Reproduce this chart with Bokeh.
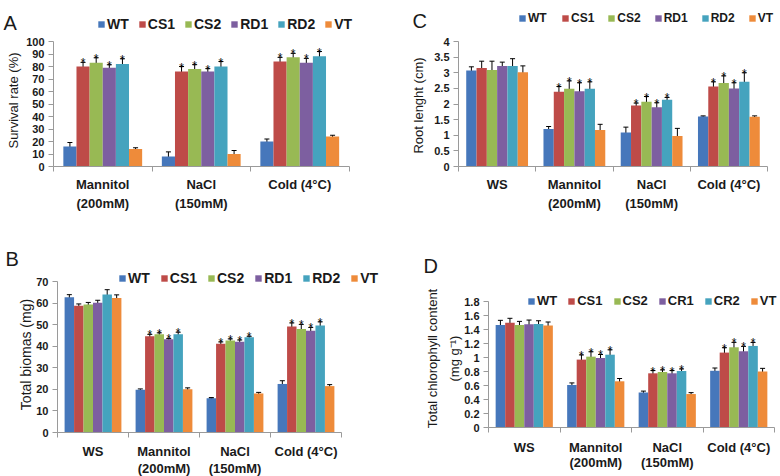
import math
from bokeh.plotting import figure
from bokeh.models import (Range1d, FixedTicker, ColumnDataSource, Whisker, TeeHead,
                          Legend, LegendItem, Label)
from bokeh.layouts import column, row
from bokeh.embed import file_html
from bokeh.resources import INLINE
from bokeh.core.properties import value

FONT = "Liberation Sans"
COLORS = ["#4677BB", "#BE4B48", "#98B954", "#7D5FA0", "#45A3BE", "#EE8B3A"]

SERIES_ABC = ["WT", "CS1", "CS2", "RD1", "RD2", "VT"]
SERIES_D = ["WT", "CS1", "CS2", "CR1", "CR2", "VT"]
STARRED = ["CS1", "CS2", "RD1", "RD2", "CR1", "CR2"]

CATS_A = ["Mannitol\n(200mM)", "NaCl\n(150mM)", "Cold (4°C)"]
CATS_BCD = ["WS", "Mannitol\n(200mM)", "NaCl\n(150mM)", "Cold (4°C)"]
STRESS_A = [1, 1, 1]
STRESS_BCD = [0, 1, 1, 1]

# Panel A: survival rate (%)
A_mean = {"WT": [16, 8, 20], "CS1": [80, 76, 84], "CS2": [83, 78, 87.5],
          "RD1": [79, 76, 83], "RD2": [82, 80, 88.3], "VT": [14, 10, 24]}
A_err = {"WT": [3.2, 3.7, 2], "CS1": [3.3, 4, 3.3], "CS2": [4, 3.5, 3],
         "RD1": [2.4, 2.3, 3.5], "RD2": [4.2, 4, 3.7], "VT": [1, 2.8, 1]}
A_yticks = [0, 10, 20, 30, 40, 50, 60, 70, 80, 90, 100]

# Panel C: root length (cm)
C_mean = {"WT": [3.07, 1.2, 1.09, 1.6], "CS1": [3.15, 2.39, 1.95, 2.56],
          "CS2": [3.09, 2.49, 2.07, 2.67], "RD1": [3.22, 2.41, 1.9, 2.5],
          "RD2": [3.22, 2.49, 2.14, 2.71], "VT": [3.02, 1.17, 0.98, 1.59]}
C_err = {"WT": [0.12, 0.08, 0.17, 0.02], "CS1": [0.22, 0.17, 0.08, 0.15],
         "CS2": [0.28, 0.25, 0.17, 0.23], "RD1": [0.12, 0.27, 0.14, 0.18],
         "RD2": [0.23, 0.22, 0.07, 0.29], "VT": [0.2, 0.18, 0.24, 0.03]}
C_yticks = [0, 0.5, 1, 1.5, 2, 2.5, 3, 3.5, 4]

# Panel B: total biomass (mg)
B_mean = {"WT": [62.7, 19.8, 15.9, 22.5], "CS1": [58.8, 44.6, 41.2, 49.1],
          "CS2": [59.3, 45.5, 42.6, 48], "RD1": [60.1, 43.2, 42.1, 47.2],
          "RD2": [64, 45.5, 44.1, 49.6], "VT": [62.3, 20.1, 18.1, 21.5]}
B_err = {"WT": [1.2, 0.4, 0.3, 1.5], "CS1": [0.8, 0.9, 0.8, 1.7],
         "CS2": [1, 0.7, 0.8, 2.1], "RD1": [1.2, 0.4, 0.8, 1.5],
         "RD2": [2.2, 1, 0.5, 1.7], "VT": [1.5, 0.6, 0.5, 0.7]}
B_yticks = [0, 10, 20, 30, 40, 50, 60, 70]

# Panel D: total chlorophyll content (mg g-1)
D_mean = {"WT": [1.466, 0.607, 0.5, 0.81], "CS1": [1.495, 0.97, 0.774, 1.07],
          "CS2": [1.466, 1.012, 0.793, 1.146], "CR1": [1.475, 0.993, 0.774, 1.089],
          "CR2": [1.48, 1.04, 0.807, 1.165], "VT": [1.457, 0.66, 0.478, 0.8]}
D_err = {"WT": [0.065, 0.03, 0.02, 0.04], "CS1": [0.065, 0.067, 0.04, 0.07],
         "CS2": [0.05, 0.07, 0.03, 0.07], "CR1": [0.06, 0.05, 0.04, 0.07],
         "CR2": [0.045, 0.07, 0.03, 0.05], "VT": [0.05, 0.04, 0.02, 0.045]}
D_yticks = [0, 0.2, 0.4, 0.6, 0.8, 1, 1.2, 1.4, 1.6, 1.8]


def panel(cats, stress, series, mean, err, yticks, ylabel, letter, width, height,
          geom, leg, ylab, let_xy, xstand, xlh):
    # geom: (px of x=0 from canvas left, px per category,
    #        px of y=0 from canvas bottom, px height of the value axis)
    n = len(cats)
    ymax = yticks[-1]
    x0px, cw, y0px, yh = geom
    xs0 = -x0px / cw
    ys0 = -y0px / (yh / ymax)
    p = figure(width=width, height=height, output_backend="svg", toolbar_location=None,
               x_range=Range1d(xs0, xs0 + width / cw),
               y_range=Range1d(ys0, ys0 + height / (yh / ymax)),
               min_border_left=0, min_border_right=0,
               min_border_top=0, min_border_bottom=0)
    p.xgrid.visible = False
    p.ygrid.visible = False
    p.outline_line_color = None
    p.background_fill_color = "white"
    bw = 1 / 7.5
    items = []
    for j, s in enumerate(series):
        xs = [i + 0.5 + (j - 2.5) * bw for i in range(n)]
        m = mean[s]
        e = err[s]
        src = ColumnDataSource(dict(x=xs, top=m,
                                    lo=[a - b for a, b in zip(m, e)],
                                    hi=[a + b for a, b in zip(m, e)]))
        r = p.vbar(x="x", top="top", bottom=0, width=bw, source=src,
                   fill_color=COLORS[j], line_color=None)
        p.add_layout(Whisker(source=src, base="x", upper="hi", lower="lo",
                             dimension="height", line_color="black", line_width=1,
                             upper_head=TeeHead(size=5, line_color="black", line_width=1),
                             lower_head=TeeHead(size=5, line_color="black", line_width=1)))
        items.append(LegendItem(label=s, renderers=[r]))
        if s in STARRED:
            sx = [x for x, f in zip(xs, stress) if f]
            sy = [a + b for a, b, f in zip(m, e, stress) if f]
            p.text(x=sx, y=sy, text=["*"] * len(sx), text_font=value(FONT),
                   text_font_size="12px", text_font_style="normal", text_color="black",
                   text_align="center", text_baseline="alphabetic", y_offset=1)

    xa = p.xaxis[0]
    ya = p.yaxis[0]
    xa.fixed_location = 0
    ya.fixed_location = 0
    xa.bounds = (0, n)
    ya.bounds = (0, ymax)
    xa.ticker = FixedTicker(ticks=[i + 0.5 for i in range(n)], minor_ticks=list(range(n + 1)))
    xa.major_label_overrides = {i + 0.5: c for i, c in enumerate(cats)}
    ya.ticker = FixedTicker(ticks=yticks, minor_ticks=[])
    ya.major_label_overrides = {t: ("%g" % t) for t in yticks}
    for ax in (xa, ya):
        ax.axis_line_color = "#9a9a9a"
        ax.major_tick_line_color = "#9a9a9a"
        ax.minor_tick_line_color = "#9a9a9a"
        ax.major_label_text_font = FONT
        ax.major_label_text_font_style = "bold"
        ax.major_label_text_color = "#1a1a1a"
    ya.major_tick_out = 5
    ya.major_tick_in = 0
    ya.minor_tick_out = 0
    ya.minor_tick_in = 0
    ya.major_label_text_font_size = "11px"
    ya.major_label_standoff = 4
    xa.major_tick_out = 0
    xa.major_tick_in = 0
    xa.minor_tick_out = 5
    xa.minor_tick_in = 0
    xa.major_label_text_font_size = "13px"
    xa.major_label_standoff = xstand
    xa.major_label_text_line_height = xlh

    lg = Legend(items=items, orientation="horizontal", location=(leg[0], leg[1]),
                glyph_width=8, glyph_height=8, label_standoff=2, spacing=leg[2],
                padding=0, margin=0, border_line_color=None, background_fill_alpha=0,
                label_text_font=FONT, label_text_font_size=leg[3],
                label_text_font_style="bold", label_height=10, label_text_color="#1a1a1a")
    p.add_layout(lg, "center")

    p.add_layout(Label(x=ylab[0], y=ylab[1], x_units="screen", y_units="screen",
                       text=ylabel, angle=math.pi / 2, text_align="center",
                       text_baseline="middle", text_font=FONT, text_font_size=ylab[2],
                       text_color="#1a1a1a", text_line_height=ylab[3]))
    p.add_layout(Label(x=let_xy[0], y=let_xy[1], x_units="screen", y_units="screen",
                       text=letter, text_align="left", text_baseline="alphabetic",
                       text_font=FONT, text_font_size="20px", text_color="#1a1a1a"))
    return p


pA = panel(CATS_A, STRESS_A, SERIES_ABC, A_mean, A_err, A_yticks, "Survival rate (%)", "A",
           390, 230, (53, 98.5, 64, 125), (97, 198, 9, "14px"), (13, 130, "13px", 1.2),
           (3, 208), 5, 1.3)
pC = panel(CATS_BCD, STRESS_BCD, SERIES_ABC, C_mean, C_err, C_yticks, "Root lenght (cm)", "C",
           390, 230, (68, 77.25, 64, 125), (128, 205, 13, "12px"), (28, 125, "13px", 1.2),
           (22, 210), 5, 1.3)
pB = panel(CATS_BCD, STRESS_BCD, SERIES_ABC, B_mean, B_err, B_yticks, "Total biomas (mg)", "B",
           390, 246, (57, 71, 44, 151), (118, 190, 10, "14px"), (25, 122, "14px", 1.2),
           (5, 218), 6, 1.15)
pD = panel(CATS_BCD, STRESS_BCD, SERIES_D, D_mean, D_err, D_yticks,
           "Total chlorophyll content\n(mg g\u207b\u00b9)", "D",
           390, 246, (98, 71.5, 49, 126), (137, 168, 10, "13px"), (53, 118, "13px", 1.5),
           (33, 211), 7, 1.05)

layout = column(row(pA, pC), row(pB, pD))
open("out.html", "w").write(file_html(layout, INLINE))
